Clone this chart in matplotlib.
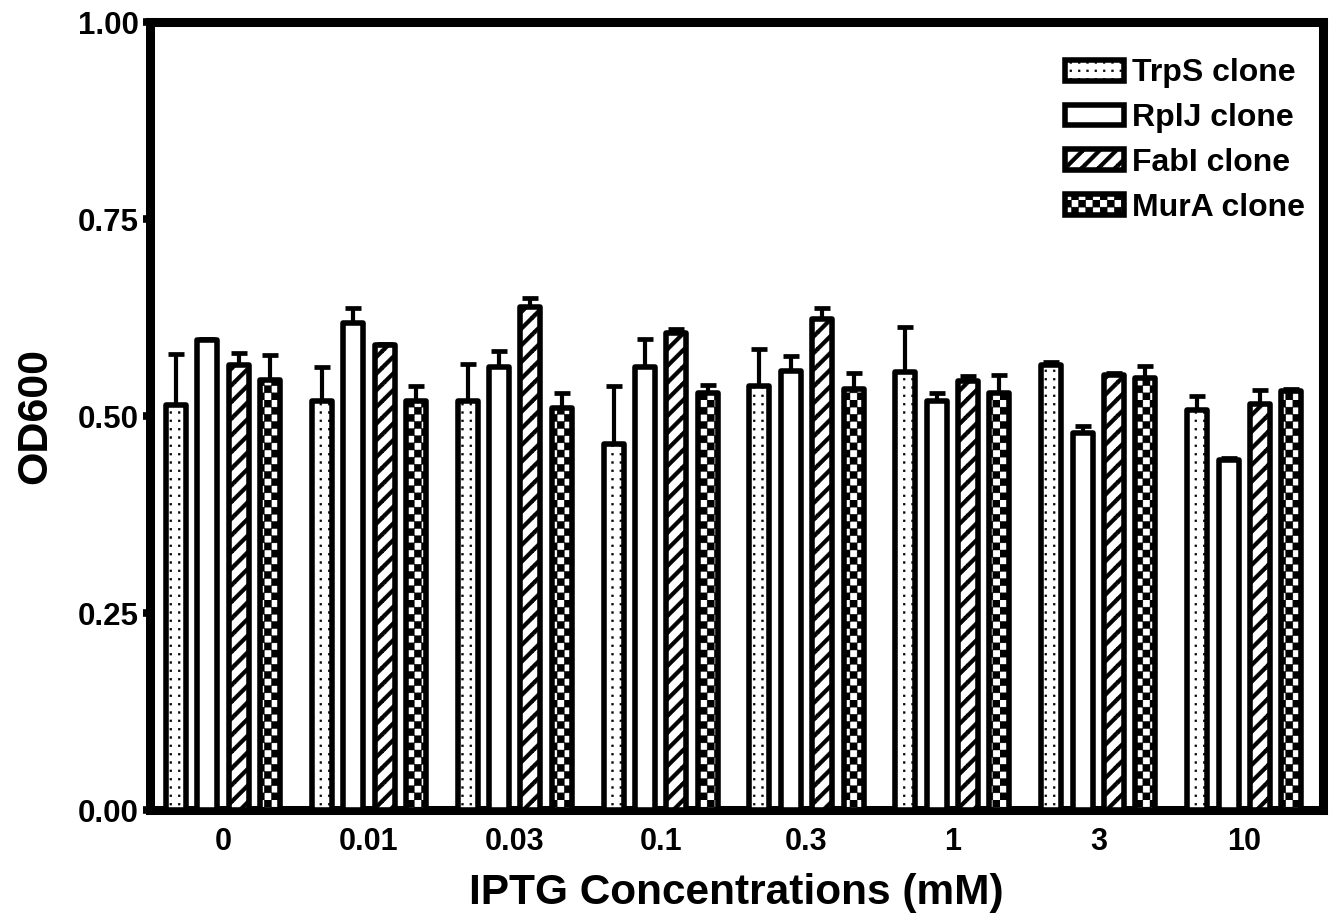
import numpy as np
import matplotlib
matplotlib.use('Agg')
import matplotlib.pyplot as plt
from matplotlib import hatch as mhatch
from matplotlib.path import Path

# IPTG concentrations (mM) and OD600 readings
concs = ['0', '0.01', '0.03', '0.1', '0.3', '1', '3', '10']
clones = ['TrpS clone', 'RplJ clone', 'FabI clone', 'MurA clone']

trps = [0.514, 0.519, 0.519, 0.465, 0.539, 0.556, 0.565, 0.508]
trps_err = [0.065, 0.044, 0.047, 0.073, 0.046, 0.057, 0.004, 0.018]
rplj = [0.597, 0.618, 0.563, 0.563, 0.557, 0.519, 0.479, 0.445]
rplj_err = [0.001, 0.019, 0.020, 0.035, 0.019, 0.011, 0.009, 0.002]
fabi = [0.565, 0.590, 0.639, 0.606, 0.624, 0.545, 0.553, 0.516]
fabi_err = [0.015, 0.002, 0.011, 0.005, 0.013, 0.006, 0.002, 0.017]
mura = [0.546, 0.519, 0.510, 0.529, 0.534, 0.530, 0.548, 0.532]
mura_err = [0.032, 0.020, 0.020, 0.011, 0.021, 0.022, 0.016, 0.003]


# filled hatch tiles (dots, thick stripes, checkerboard)
class Tiles(mhatch.HatchPatternBase):
    char = None
    reps = 6
    polys = []

    def __init__(self, hatch, density):
        self.n = hatch.count(self.char) * self.reps if hatch else 0
        per = sum(len(p) + 1 for p in self.polys)
        self.num_vertices = self.n * self.n * per

    def set_vertices_and_codes(self, vertices, codes):
        n = self.n
        vs, cs = [], []
        for i in range(n):
            for j in range(n):
                for p in self.polys:
                    p = np.asarray(p, float)
                    v = (p + [i, j]) / n
                    vs.append(np.vstack([v, v[:1]]))
                    c = [Path.MOVETO] + [Path.LINETO] * (len(p) - 1) + [Path.CLOSEPOLY]
                    cs.append(c)
        vertices[:] = np.concatenate(vs)
        codes[:] = np.concatenate(cs)


def sq(cx, cy, h):
    return [(cx - h, cy - h), (cx + h, cy - h), (cx + h, cy + h), (cx - h, cy + h)]


class Dots(Tiles):
    char = '.'
    reps = 12
    polys = [sq(0.5, 0.5, 0.11)]


w = 0.16
class Stripes(Tiles):
    char = '/'
    reps = 6
    polys = [[(0, 0), (w, 0), (1, 1 - w), (1, 1), (1 - w, 1), (0, w)],
             [(1 - w, 0), (1, 0), (1, w)],
             [(0, 1 - w), (0, 1), (w, 1)]]


class Checks(Tiles):
    char = 'x'
    reps = 7
    polys = [[(0, 0), (0.5, 0), (0.5, 0.5), (0, 0.5)],
             [(0.5, 0.5), (1, 0.5), (1, 1), (0.5, 1)]]


mhatch._hatch_types = [Dots, Stripes, Checks]

plt.rcParams['font.family'] = ['Liberation Sans', 'DejaVu Sans']
plt.rcParams['font.weight'] = 'bold'
plt.rcParams['hatch.linewidth'] = 0.3
plt.rcParams['hatch.color'] = 'black'

fig = plt.figure(figsize=(13.35, 9.17), dpi=100)
ax = fig.add_axes([150 / 1335, 1 - 810 / 917, (1323 - 150) / 1335, (810 - 22.5) / 917])

x = np.arange(len(concs))
pitch = 0.215
width = 0.137
series = [(trps, trps_err, '.'), (rplj, rplj_err, ''), (fabi, fabi_err, '/'), (mura, mura_err, 'x')]

for k, (vals, errs, h) in enumerate(series):
    pos = x + (k - 1.5) * pitch
    ax.errorbar(pos, vals, yerr=[np.zeros(len(vals)), errs], fmt='none', ecolor='black',
                elinewidth=3, capsize=5.5, capthick=3.4, zorder=2)
    ax.bar(pos, vals, width, color='white', edgecolor='black', linewidth=4,
           hatch=h, label=clones[k], joinstyle='round', zorder=3)

ax.set_xlim(-0.5, 7.54)
ax.set_ylim(0, 1.0)
ax.set_yticks([0, 0.25, 0.5, 0.75, 1.0])
ax.set_yticklabels(['0.00', '0.25', '0.50', '0.75', '1.00'])
ax.set_xticks(x)
ax.set_xticklabels(concs)
ax.tick_params(axis='y', direction='out', length=5, width=5.5, labelsize=22.5, pad=3)
ax.tick_params(axis='x', length=0, labelsize=22, pad=12)
for s in ax.spines.values():
    s.set_linewidth(6.5)
    s.set_capstyle('projecting')

ax.set_xlabel('IPTG Concentrations (mM)', fontsize=30.5, fontweight='bold', labelpad=12)
ax.set_ylabel('OD600', fontsize=31, fontweight='bold', labelpad=16)

ax.legend(loc='upper right', bbox_to_anchor=(1 - 18 / 1173, 1 - 36 / 787.5), frameon=False,
          handlelength=1.85, handleheight=0.62, handletextpad=0.25, labelspacing=0.46,
          borderaxespad=0, borderpad=0, prop={'weight': 'bold', 'size': 23})

plt.savefig('out.png', dpi=100)
